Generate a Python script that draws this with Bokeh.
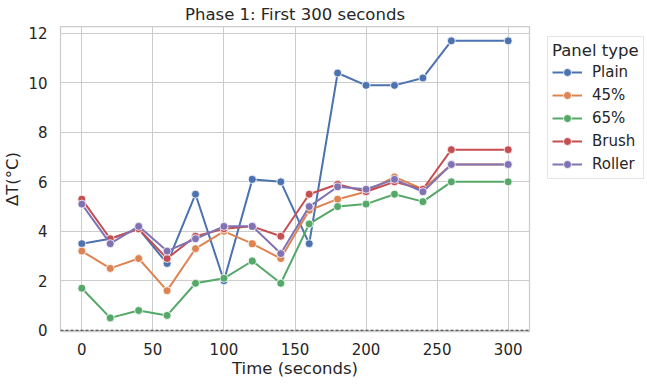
from bokeh.plotting import figure
from bokeh.models import Range1d, Span, Legend, LegendItem, FixedTicker
from bokeh.embed import file_html
from bokeh.resources import INLINE

times = [0, 20, 40, 60, 80, 100, 120, 140, 160, 180, 200, 220, 240, 260, 300]
plain = [3.5, 3.7, 4.1, 2.7, 5.5, 2.0, 6.1, 6.0, 3.5, 10.4, 9.9, 9.9, 10.2, 11.7, 11.7]
p45 = [3.2, 2.5, 2.9, 1.6, 3.3, 4.0, 3.5, 2.9, 4.85, 5.3, 5.6, 6.2, 5.7, 6.7, 6.7]
p65 = [1.7, 0.5, 0.8, 0.6, 1.9, 2.1, 2.8, 1.9, 4.3, 5.0, 5.1, 5.5, 5.2, 6.0, 6.0]
brush = [5.3, 3.7, 4.1, 2.9, 3.8, 4.1, 4.2, 3.8, 5.5, 5.9, 5.6, 6.0, 5.7, 7.3, 7.3]
roller = [5.1, 3.5, 4.2, 3.2, 3.7, 4.2, 4.2, 3.1, 5.0, 5.8, 5.7, 6.1, 5.6, 6.7, 6.7]

series_names = ["Plain", "45%", "65%", "Brush", "Roller"]
series_values = [plain, p45, p65, brush, roller]
colors = ["#4C72B0", "#DD8452", "#55A868", "#C44E52", "#8172B3"]

x_ticks = [0, 50, 100, 150, 200, 250, 300]
y_ticks = [0, 2, 4, 6, 8, 10, 12]

FONT = "DejaVu Sans"
TXT = "#262626"

p = figure(frame_width=469, frame_height=305, output_backend="svg",
           toolbar_location=None,
           x_range=Range1d(-15, 315), y_range=Range1d(-0.05, 12.28),
           min_border_left=53, min_border_right=109, min_border_top=18,
           min_border_bottom=46,
           title="Phase 1: First 300 seconds")

p.title.text_font = FONT
p.title.text_font_size = "16.5px"
p.title.text_font_style = "normal"
p.title.text_color = TXT
p.title.align = "center"
p.title.standoff = 5
p.title.offset = 0

p.background_fill_color = "white"
p.border_fill_color = "white"
p.outline_line_color = "#cccccc"
p.outline_line_width = 1.25

for ax in (p.xaxis[0], p.yaxis[0]):
    ax.axis_line_color = None
    ax.major_tick_line_color = None
    ax.minor_tick_line_color = None
    ax.major_tick_out = 0
    ax.major_tick_in = 0
    ax.minor_tick_out = 0
    ax.minor_tick_in = 0
    ax.major_label_text_font = FONT
    ax.major_label_text_font_size = "15px"
    ax.major_label_text_color = TXT
    ax.axis_label_text_font = FONT
    ax.axis_label_text_font_size = "16.5px"
    ax.axis_label_text_font_style = "normal"
    ax.axis_label_text_color = TXT

p.xaxis.ticker = FixedTicker(ticks=x_ticks)
p.yaxis.ticker = FixedTicker(ticks=y_ticks)
p.xaxis.axis_label = "Time (seconds)"
p.yaxis.axis_label = "ΔT(°C)"
p.xaxis.major_label_standoff = 11
p.yaxis.major_label_standoff = 13
p.xaxis.axis_label_standoff = 1
p.yaxis.axis_label_standoff = 3

p.xgrid.grid_line_color = "#cccccc"
p.ygrid.grid_line_color = "#cccccc"
p.xgrid.grid_line_width = 1
p.ygrid.grid_line_width = 1

p.add_layout(Span(location=0, dimension="width", line_color="#222222",
                  line_dash="3 2", line_width=0.9))

items = []
for name, vals, c in zip(series_names, series_values, colors):
    r1 = p.line(times, vals, line_color=c, line_width=2)
    r2 = p.scatter(times, vals, size=8, fill_color=c, line_color="white",
                   line_width=0.8)
    items.append(LegendItem(label=name, renderers=[r1, r2]))

legend = Legend(items=items, title="Panel type", location=(18, 152))
legend.margin = 0
legend.title_text_font = FONT
legend.title_text_font_size = "16.5px"
legend.title_text_font_style = "normal"
legend.title_text_color = TXT
legend.title_standoff = 2
legend.label_text_font = FONT
legend.label_text_font_size = "15px"
legend.label_text_color = TXT
legend.glyph_width = 30
legend.glyph_height = 20
legend.label_height = 20
legend.label_standoff = 10
legend.spacing = 3
legend.padding = 4
legend.border_line_color = "#cccccc"
legend.border_line_width = 1
legend.background_fill_color = "white"
legend.background_fill_alpha = 0.8
p.add_layout(legend, "right")

open("out.html", "w").write(file_html(p, INLINE))
